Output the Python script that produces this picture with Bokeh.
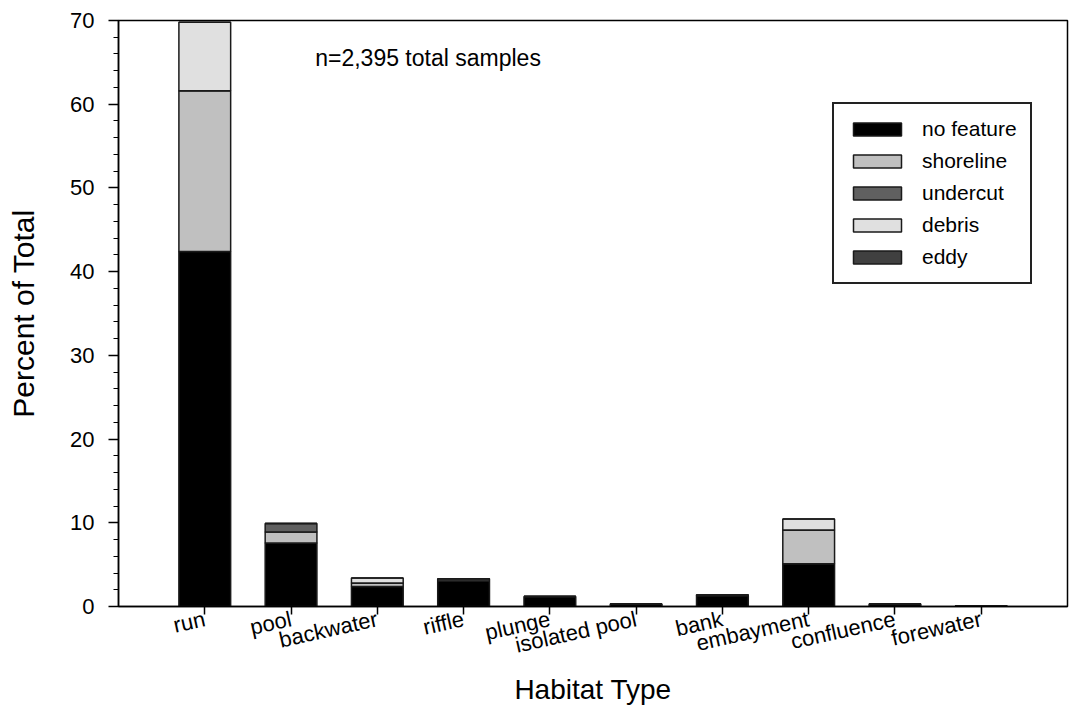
from bokeh.plotting import figure
from bokeh.models import (FixedTicker, Legend, LegendItem, Range1d, Label,
                          ColumnDataSource)
from bokeh.embed import file_html
from bokeh.resources import INLINE

# ---- data ----
categories = ["run", "pool", "backwater", "riffle", "plunge", "isolated pool",
              "bank", "embayment", "confluence", "forewater"]
positions = [1, 2, 3, 4, 5, 6, 7, 8, 9, 10]
no_feature = [42.4, 7.6, 2.4, 3.05, 1.2, 0.3, 1.3, 5.1, 0.3, 0.05]
shoreline = [19.2, 1.3, 0.4, 0.0, 0.0, 0.0, 0.0, 4.05, 0.0, 0.0]
undercut = [0.0, 1.0, 0.0, 0.25, 0.0, 0.0, 0.0, 0.0, 0.0, 0.0]
debris = [8.2, 0.0, 0.6, 0.0, 0.0, 0.0, 0.0, 1.3, 0.0, 0.0]
eddy = [0.0, 0.0, 0.0, 0.0, 0.0, 0.0, 0.1, 0.0, 0.0, 0.0]
series_names = ["no feature", "shoreline", "undercut", "debris", "eddy"]
series_keys = ["no_feature", "shoreline", "undercut", "debris", "eddy"]
series_colors = ["#000000", "#c0c0c0", "#606060", "#e0e0e0", "#404040"]
y_ticks = [0, 10, 20, 30, 40, 50, 60, 70]
annotation = "n=2,395 total samples"

FONT = "Liberation Sans"

src = ColumnDataSource(dict(x=positions, no_feature=no_feature, shoreline=shoreline,
                            undercut=undercut, debris=debris, eddy=eddy))

p = figure(width=1069, height=708, x_range=Range1d(0, 11), y_range=Range1d(0, 70),
           output_backend="svg", toolbar_location=None,
           min_border_left=118, min_border_right=2, min_border_top=20,
           min_border_bottom=102)
p.background_fill_color = "white"
p.border_fill_color = "white"
p.xgrid.visible = False
p.ygrid.visible = False
p.outline_line_color = "black"
p.outline_line_width = 1.5

rs = p.vbar_stack(series_keys, x="x", width=0.6, source=src,
                  fill_color=series_colors, line_color="#1a1a1a", line_width=1.5)

# axes
p.yaxis.ticker = FixedTicker(ticks=y_ticks, minor_ticks=list(range(0, 71, 2)))
p.yaxis.major_tick_out = 10
p.yaxis.major_tick_in = 0
p.yaxis.minor_tick_out = 5
p.yaxis.minor_tick_in = 0
p.yaxis.major_label_standoff = 14
p.yaxis.axis_label = "Percent of Total"
p.yaxis.axis_label_standoff = 27
p.yaxis.axis_label_text_font_size = "30px"

p.xaxis.ticker = FixedTicker(ticks=positions, minor_ticks=[])
p.xaxis.major_label_overrides = {pos: name for pos, name in zip(positions, categories)}
p.xaxis.major_label_orientation = 0.22
p.xaxis.major_tick_out = 8
p.xaxis.major_tick_in = 0
p.xaxis.major_label_standoff = 4
p.xaxis.axis_label = "Habitat Type"
p.xaxis.axis_label_standoff = 1
p.xaxis.axis_label_text_font_size = "28px"

for ax in (p.xaxis, p.yaxis):
    ax.axis_line_color = "black"
    ax.axis_line_width = 1.5
    ax.major_tick_line_color = "black"
    ax.major_tick_line_width = 1.5
    ax.minor_tick_line_color = "black"
    ax.minor_tick_line_width = 1.2
    ax.major_label_text_font = FONT
    ax.major_label_text_font_size = "22px"
    ax.major_label_text_color = "black"
    ax.axis_label_text_font = FONT
    ax.axis_label_text_font_style = "normal"
    ax.axis_label_text_color = "black"

# annotation
p.add_layout(Label(x=2.28, y=65.5, text=annotation, text_font=FONT,
                   text_font_size="23px", text_baseline="middle",
                   text_color="black"))

# legend
items = [LegendItem(label=name, renderers=[r]) for name, r in zip(series_names, rs)]
legend = Legend(items=items, location=(714, 322), orientation="vertical",
                glyph_width=60, glyph_height=16, label_text_font=FONT,
                label_text_font_size="21px", label_text_color="black",
                label_standoff=15, padding=13, spacing=8, margin=0,
                border_line_color="#222222", border_line_width=2,
                border_line_alpha=1.0,
                background_fill_color="white", background_fill_alpha=1.0)
p.add_layout(legend, "center")

open("out.html", "w").write(file_html(p, INLINE))
